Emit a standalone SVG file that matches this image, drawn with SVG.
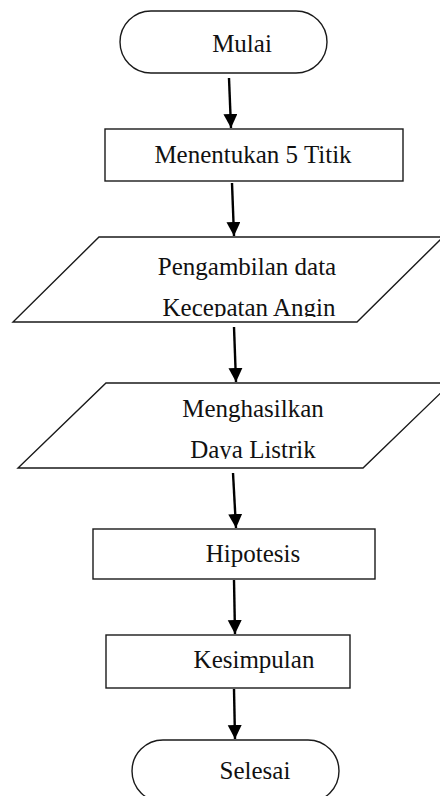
<svg xmlns="http://www.w3.org/2000/svg" width="440" height="796" viewBox="0 0 440 796">
<style>
.shape{fill:#ffffff;stroke:#1a1a1a;stroke-width:1.4}
.lbl{font-family:"Liberation Serif","Times New Roman",serif;font-size:25px;fill:#111;text-anchor:middle}
.conn{stroke:#000;stroke-width:2.4;fill:none;marker-end:url(#ah)}
</style>
<defs>
<marker id="ah" markerUnits="userSpaceOnUse" markerWidth="14" markerHeight="16" viewBox="0 0 14 16" refX="14" refY="7" orient="auto">
<path d="M0,0 L14,7 L0,14 Z" fill="#000"/>
</marker>
<clipPath id="c1"><rect x="0" y="230" width="440" height="87"/></clipPath>
<clipPath id="c2"><rect x="0" y="376" width="440" height="83"/></clipPath>
</defs>
<rect width="440" height="796" fill="#fff"/>
<g id="mulai">
<rect class="shape" x="120" y="11" width="207" height="62" rx="31" ry="31"/>
<text class="lbl" x="242" y="52">Mulai</text>
</g>
<g id="menentukan">
<rect class="shape" x="105" y="129" width="298" height="52"/>
<text class="lbl" x="253" y="163">Menentukan 5 Titik</text>
</g>
<g id="pengambilan">
<polygon class="shape" points="99,237 443,237 357,322 13,322"/>
<g clip-path="url(#c1)">
<text class="lbl" x="247" y="275">Pengambilan data</text>
<text class="lbl" x="249" y="316">Kecepatan Angin</text>
</g>
</g>
<g id="menghasilkan">
<polygon class="shape" points="106,383 451,383 363,468 18,468"/>
<g clip-path="url(#c2)">
<text class="lbl" x="253" y="417">Menghasilkan</text>
<text class="lbl" x="253" y="458">Daya Listrik</text>
</g>
</g>
<g id="hipotesis">
<rect class="shape" x="93" y="529" width="282" height="50"/>
<text class="lbl" x="253" y="562">Hipotesis</text>
</g>
<g id="kesimpulan">
<rect class="shape" x="106" y="635" width="244" height="53"/>
<text class="lbl" x="254" y="668">Kesimpulan</text>
</g>
<g id="selesai">
<rect class="shape" x="132" y="740" width="207" height="62" rx="31" ry="31"/>
<text class="lbl" x="255" y="779">Selesai</text>
</g>
<g id="connectors">
<line class="conn" x1="229" y1="78" x2="231" y2="128"/>
<line class="conn" x1="232" y1="183" x2="234" y2="236"/>
<line class="conn" x1="234" y1="327" x2="236" y2="382"/>
<line class="conn" x1="233" y1="473" x2="236" y2="528"/>
<line class="conn" x1="234" y1="580" x2="235" y2="634"/>
<line class="conn" x1="234" y1="689" x2="235" y2="739"/>
</g>
</svg>
